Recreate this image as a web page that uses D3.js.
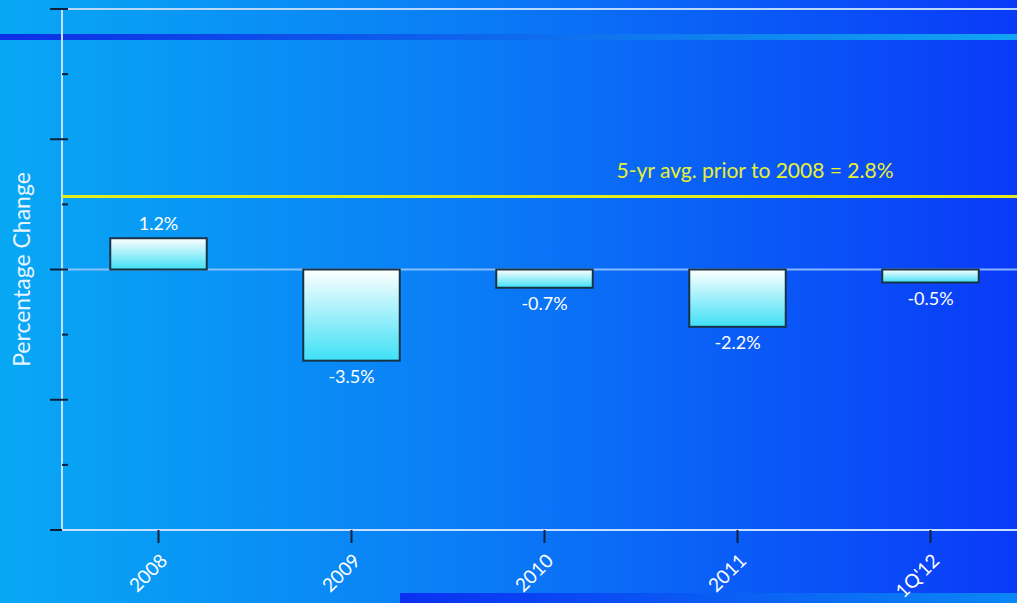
<!DOCTYPE html>
<html>
<head>
<meta charset="utf-8">
<script src="https://cdn.jsdelivr.net/npm/d3@7"></script>
<style>
  html, body { margin: 0; padding: 0; background: #0a6ff4; }
  svg { display: block; }
  text { font-family: Lato, "Open Sans", sans-serif; }
</style>
</head>
<body>
<svg id="chart" width="1017" height="603"></svg>
<script>
// Annual percentage change
const categories = ["2008", "2009", "2010", "2011", "1Q'12"];
const values = [1.2, -3.5, -0.7, -2.2, -0.5];
const valueLabels = ["1.2%", "-3.5%", "-0.7%", "-2.2%", "-0.5%"];
const averageValue = 2.8;
const averageLabel = "5-yr avg. prior to 2008 = 2.8%";
const yTicks = [-10, -7.5, -5, -2.5, 0, 2.5, 5, 7.5, 10];
const yTitle = "Percentage Change";

const W = 1017, H = 603;
const svg = d3.select("#chart");
const defs = svg.append("defs");

// Background: light cyan-blue on the left to deep blue on the right
const bg = defs.append("linearGradient").attr("id", "bg").attr("x1", 0).attr("x2", 1).attr("y1", 0).attr("y2", 0);
bg.append("stop").attr("offset", "0%").attr("stop-color", "#08a8f4");
bg.append("stop").attr("offset", "45%").attr("stop-color", "#0a7ef6");
bg.append("stop").attr("offset", "100%").attr("stop-color", "#0a3af8");

const topBand = defs.append("linearGradient").attr("id", "topBand").attr("x1", 0).attr("x2", 1);
topBand.append("stop").attr("offset", "0%").attr("stop-color", "#0c2ee6");
topBand.append("stop").attr("offset", "100%").attr("stop-color", "#10a4f4");

const botBand = defs.append("linearGradient").attr("id", "botBand").attr("x1", 0).attr("x2", 1);
botBand.append("stop").attr("offset", "0%").attr("stop-color", "#0a30f2");
botBand.append("stop").attr("offset", "100%").attr("stop-color", "#0a86f6");

const barFill = defs.append("linearGradient").attr("id", "barFill").attr("x1", 0).attr("x2", 0).attr("y1", 0).attr("y2", 1);
barFill.append("stop").attr("offset", "0%").attr("stop-color", "#ffffff");
barFill.append("stop").attr("offset", "100%").attr("stop-color", "#3ee0f6");

svg.append("rect").attr("width", W).attr("height", H).attr("fill", "url(#bg)");

// Decorative bands
svg.append("rect").attr("x", 0).attr("y", 34).attr("width", W).attr("height", 6).attr("fill", "url(#topBand)");
svg.append("rect").attr("x", 400).attr("y", 593).attr("width", W - 400).attr("height", 10).attr("fill", "url(#botBand)");

const x0 = 62, x1 = 1027;
const x = d3.scaleBand().domain(categories).range([x0, x1]).paddingInner(0.5).paddingOuter(0.25);
const y = d3.scaleLinear().domain([-10, 10]).range([530, 9]);

// Frame lines: top border, zero line
svg.append("line").attr("x1", x0).attr("x2", W).attr("y1", y(10)).attr("y2", y(10))
  .attr("stroke", "#b8d8ff").attr("stroke-width", 2);
svg.append("line").attr("x1", x0).attr("x2", W).attr("y1", y(0)).attr("y2", y(0))
  .attr("stroke", "#9cc8ff").attr("stroke-width", 2).attr("opacity", 0.85);

// Y axis
const yAxis = svg.append("g").attr("transform", `translate(${x0},0)`);
yAxis.append("line").attr("x1", 0).attr("x2", 0).attr("y1", y(10)).attr("y2", y(-10))
  .attr("stroke", "#c8e0ff").attr("stroke-width", 2);
yAxis.selectAll("line.tick").data(yTicks).join("line")
  .attr("class", "tick")
  .attr("x1", d => (d % 5 === 0 ? -12 : 0))
  .attr("x2", 6)
  .attr("y1", d => y(d)).attr("y2", d => y(d))
  .attr("stroke", "#10203a").attr("stroke-width", 2);

// X axis
svg.append("line").attr("x1", x0).attr("x2", W).attr("y1", y(-10)).attr("y2", y(-10))
  .attr("stroke", "#c8e0ff").attr("stroke-width", 2);
const xAxis = svg.append("g").attr("transform", `translate(0,${y(-10)})`)
  .call(d3.axisBottom(x).tickSize(13).tickSizeOuter(0));
xAxis.select(".domain").remove();
xAxis.selectAll(".tick line").attr("stroke", "#10203a").attr("stroke-width", 2);
xAxis.selectAll(".tick text")
  .attr("fill", "#ffffff").attr("font-size", 19)
  .attr("text-anchor", "end")
  .attr("dy", 0)
  .attr("transform", "translate(10,32) rotate(-45)")
  .attr("x", 0).attr("y", 0);

// Bars
svg.selectAll("rect.bar").data(values).join("rect")
  .attr("class", "bar")
  .attr("x", (d, i) => x(categories[i]))
  .attr("width", x.bandwidth())
  .attr("y", d => y(Math.max(0, d)))
  .attr("height", d => Math.abs(y(d) - y(0)))
  .attr("fill", "url(#barFill)")
  .attr("stroke", "#173447").attr("stroke-width", 2);

// Value labels
svg.selectAll("text.val").data(values).join("text")
  .attr("class", "val")
  .attr("x", (d, i) => x(categories[i]) + x.bandwidth() / 2)
  .attr("y", d => (d >= 0 ? y(d) - 8 : y(d) + 22))
  .attr("text-anchor", "middle")
  .attr("fill", "#ffffff").attr("font-size", 18)
  .text((d, i) => valueLabels[i]);

// Five-year average line and caption
svg.append("line").attr("x1", x0).attr("x2", W).attr("y1", y(averageValue)).attr("y2", y(averageValue))
  .attr("stroke", "#e4ec1c").attr("stroke-width", 3);
svg.append("text").attr("x", 755).attr("y", 178).attr("text-anchor", "middle")
  .attr("fill", "#e8f030").attr("font-size", 21)
  .text(averageLabel);

// Y title
svg.append("text")
  .attr("transform", `translate(30,${y(0)}) rotate(-90)`)
  .attr("text-anchor", "middle")
  .attr("fill", "#e8f4ff").attr("font-size", 23)
  .text(yTitle);
</script>
</body>
</html>
